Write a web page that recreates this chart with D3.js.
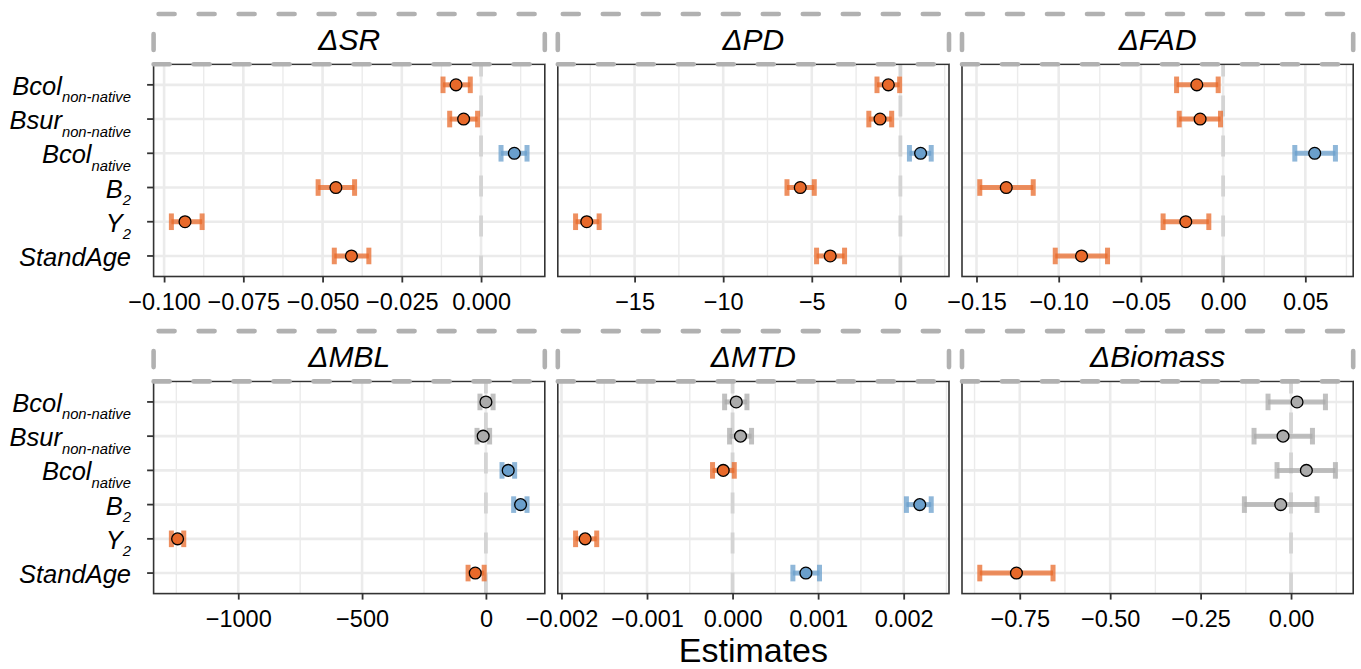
<!DOCTYPE html>
<html>
<head>
<meta charset="utf-8">
<script src="https://cdn.jsdelivr.net/npm/d3@7"></script>
<style>
  body { margin: 0; background: #fff; }
  text { font-family: "Liberation Sans", Arial, Helvetica, sans-serif; }
</style>
</head>
<body>
<svg id="chart"></svg>
<script>
// terms (rows, top to bottom)
var terms = ["Bcol_nn", "Bsur_nn", "Bcol_n", "B2", "Y2", "StandAge"]
var termMain = ["Bcol", "Bsur", "Bcol", "B", "Y", "StandAge"]
var termSub = ["non-native", "non-native", "native", "2", "2", ""]

// sig: n = negative, p = positive, ns = not significant
var srEst = [-0.0079, -0.0055, 0.0105, -0.0458, -0.0934, -0.0409]
var srLo = [-0.0120, -0.0099, 0.0063, -0.0514, -0.0977, -0.0463]
var srHi = [-0.0034, -0.0011, 0.0145, -0.0399, -0.0880, -0.0354]
var srSig = ["n", "n", "p", "n", "n", "n"]
var srTicks = [-0.1, -0.075, -0.05, -0.025, 0]

var pdEst = [-0.68, -1.15, 1.14, -5.65, -17.70, -3.96]
var pdLo = [-1.32, -1.78, 0.51, -6.40, -18.33, -4.73]
var pdHi = [-0.04, -0.49, 1.74, -4.86, -17.00, -3.15]
var pdSig = ["n", "n", "p", "n", "n", "n"]
var pdTicks = [-15, -10, -5, 0]

var fadEst = [-0.0160, -0.0140, 0.0557, -0.1319, -0.0227, -0.0861]
var fadLo = [-0.0283, -0.0267, 0.0436, -0.1480, -0.0365, -0.1021]
var fadHi = [-0.0030, -0.0016, 0.0683, -0.1155, -0.0087, -0.0703]
var fadSig = ["n", "n", "p", "n", "n", "n"]
var fadTicks = [-0.15, -0.10, -0.05, 0, 0.05]

var mblEst = [0, -11, 90, 140, -1245, -43]
var mblLo = [-24, -36, 65, 112, -1270, -72]
var mblHi = [29, 15, 116, 166, -1220, -7]
var mblSig = ["ns", "ns", "p", "p", "n", "n"]
var mblTicks = [-1000, -500, 0]

var mtdEst = [0.000043, 0.000093, -0.000109, 0.002188, -0.001723, 0.000857]
var mtdLo = [-0.000093, -0.000035, -0.000234, 0.002032, -0.001835, 0.000705]
var mtdHi = [0.000168, 0.000222, 0.000020, 0.002322, -0.001588, 0.001016]
var mtdSig = ["ns", "ns", "n", "p", "n", "p"]
var mtdTicks = [-0.002, -0.001, 0, 0.001, 0.002]

var bioEst = [0.0166, -0.0221, 0.0424, -0.0285, null, -0.7592]
var bioLo = [-0.0636, -0.1023, -0.0387, -0.1290, null, -0.8605]
var bioHi = [0.0951, 0.0592, 0.1227, 0.0719, null, -0.6580]
var bioSig = ["ns", "ns", "ns", "ns", null, "n"]
var bioTicks = [-0.75, -0.50, -0.25, 0]

var panels = [
    {title: "\u0394SR", est: srEst, lo: srLo, hi: srHi, sig: srSig, ticks: srTicks, fmt: ".3f"},
    {title: "\u0394PD", est: pdEst, lo: pdLo, hi: pdHi, sig: pdSig, ticks: pdTicks, fmt: "d"},
    {title: "\u0394FAD", est: fadEst, lo: fadLo, hi: fadHi, sig: fadSig, ticks: fadTicks, fmt: ".2f"},
    {title: "\u0394MBL", est: mblEst, lo: mblLo, hi: mblHi, sig: mblSig, ticks: mblTicks, fmt: "d"},
    {title: "\u0394MTD", est: mtdEst, lo: mtdLo, hi: mtdHi, sig: mtdSig, ticks: mtdTicks, fmt: ".3f"},
    {title: "\u0394Biomass", est: bioEst, lo: bioLo, hi: bioHi, sig: bioSig, ticks: bioTicks, fmt: ".2f"}
]

var colorMap = {n: "#E8692A", p: "#6A9FCC", ns: "#ABABAB"}

var width = 1361, height = 669
var marginLeft = 153.6, panelW = 391.2, gapX = 13
var panelH = 212.2, rowTop = [64.3, 381.4], stripH = 50.3

var svg = d3.select("#chart")
    .attr("width", width)
    .attr("height", height)

svg.append("rect")
    .attr("width", width)
    .attr("height", height)
    .attr("fill", "white")

panels.forEach(function(p, i) {
    var col = i % 3, row = Math.floor(i / 3)
    var x0 = marginLeft + col * (panelW + gapX), y0 = rowTop[row]
    var g = svg.append("g").attr("transform", "translate(" + x0 + "," + y0 + ")")

    // ggplot style 5% expansion around the interval ends
    var vals = p.lo.concat(p.hi).filter(function(v) { return v != null })
    var mn = d3.min(vals), mx = d3.max(vals), pad = (mx - mn) * 0.05
    var x = d3.scaleLinear().domain([mn - pad, mx + pad]).range([0, panelW])
    var y = d3.scalePoint().domain(terms).range([0, panelH]).padding(0.6)

    var step = p.ticks[1] - p.ticks[0]
    var minor = []
    for (var v = p.ticks[0] - step / 2; v <= x.domain()[1]; v += step) {
        if (v >= x.domain()[0]) minor.push(v)
    }

    g.append("rect")
        .attr("width", panelW)
        .attr("height", panelH)
        .attr("fill", "white")

    g.selectAll(".minor").data(minor)
        .enter().append("line")
        .attr("x1", x).attr("x2", x)
        .attr("y1", 0).attr("y2", panelH)
        .attr("stroke", "#ebebeb")
        .attr("stroke-width", 1.4)

    g.selectAll(".vmajor").data(p.ticks)
        .enter().append("line")
        .attr("x1", x).attr("x2", x)
        .attr("y1", 0).attr("y2", panelH)
        .attr("stroke", "#ebebeb")
        .attr("stroke-width", 2.6)

    g.selectAll(".hmajor").data(terms)
        .enter().append("line")
        .attr("x1", 0).attr("x2", panelW)
        .attr("y1", y).attr("y2", y)
        .attr("stroke", "#ebebeb")
        .attr("stroke-width", 2.6)

    // zero reference
    g.append("line")
        .attr("x1", x(0)).attr("x2", x(0))
        .attr("y1", panelH).attr("y2", 0)
        .attr("stroke", "#d4d4d4")
        .attr("stroke-width", 3.8)
        .attr("stroke-dasharray", "21,19")

    var rows = terms.map(function(t, k) {
        return {term: t, est: p.est[k], lo: p.lo[k], hi: p.hi[k], sig: p.sig[k]}
    }).filter(function(d) { return d.est != null })

    var bar = g.selectAll(".errbar").data(rows)
        .enter().append("g")
        .attr("class", "errbar")
        .attr("stroke", function(d) { return colorMap[d.sig] })
        .attr("stroke-width", 5)
        .attr("stroke-opacity", 0.75)

    bar.append("line")
        .attr("x1", function(d) { return x(d.lo) })
        .attr("x2", function(d) { return x(d.hi) })
        .attr("y1", function(d) { return y(d.term) })
        .attr("y2", function(d) { return y(d.term) })

    bar.append("line")
        .attr("x1", function(d) { return x(d.lo) })
        .attr("x2", function(d) { return x(d.lo) })
        .attr("y1", function(d) { return y(d.term) - 8.3 })
        .attr("y2", function(d) { return y(d.term) + 8.3 })

    bar.append("line")
        .attr("x1", function(d) { return x(d.hi) })
        .attr("x2", function(d) { return x(d.hi) })
        .attr("y1", function(d) { return y(d.term) - 8.3 })
        .attr("y2", function(d) { return y(d.term) + 8.3 })

    g.selectAll(".pt").data(rows)
        .enter().append("circle")
        .attr("cx", function(d) { return x(d.est) })
        .attr("cy", function(d) { return y(d.term) })
        .attr("r", 5.9)
        .attr("fill", function(d) { return colorMap[d.sig] })
        .attr("stroke", "black")
        .attr("stroke-width", 1.3)

    g.append("rect")
        .attr("width", panelW)
        .attr("height", panelH)
        .attr("fill", "none")
        .attr("stroke", "#333")
        .attr("stroke-width", 1.6)

    // x axis
    var ax = g.append("g")
        .attr("transform", "translate(0," + panelH + ")")
        .call(d3.axisBottom(x).tickValues(p.ticks).tickFormat(d3.format(p.fmt)).tickSize(6))
    ax.select(".domain").remove()
    ax.attr("font-family", null).attr("font-size", null)
    ax.selectAll("line").attr("stroke", "#333").attr("stroke-width", 1.8)
    ax.selectAll("text")
        .attr("y", 33.4)
        .attr("dy", 0)
        .attr("fill", "#000")
        .style("font-size", "23.5px")

    // y axis on the left column only
    if (col === 0) {
        g.selectAll(".ytick").data(terms)
            .enter().append("line")
            .attr("x1", -6.5).attr("x2", 0)
            .attr("y1", y).attr("y2", y)
            .attr("stroke", "#333")
            .attr("stroke-width", 1.8)

        var lab = g.selectAll(".ylab").data(terms)
            .enter().append("text")
            .attr("x", 131 - marginLeft)
            .attr("y", function(d) { return y(d) + 10 })
            .attr("text-anchor", "end")
            .style("font-style", "italic")
            .attr("fill", "#000")
        lab.append("tspan")
            .style("font-size", "25.5px")
            .text(function(d, k) { return termMain[k] })
        lab.append("tspan")
            .style("font-size", "14.8px")
            .attr("dy", 7.5)
            .text(function(d, k) { return termSub[k] })
    }

    // strip with dashed border
    var s = g.append("g").attr("transform", "translate(0," + (-stripH) + ")")
    s.append("rect")
        .attr("width", panelW)
        .attr("height", stripH - 1)
        .attr("fill", "white")
    var dash = [
        {x1: 0, y1: 0, x2: panelW, y2: 0, off: 35},
        {x1: 0, y1: stripH, x2: panelW, y2: stripH, off: 0},
        {x1: 0, y1: 0, x2: 0, y2: stripH, off: 20},
        {x1: panelW, y1: 0, x2: panelW, y2: stripH, off: 20}
    ]
    s.selectAll(".sdash").data(dash)
        .enter().append("line")
        .attr("x1", function(d) { return d.x1 })
        .attr("y1", function(d) { return d.y1 })
        .attr("x2", function(d) { return d.x2 })
        .attr("y2", function(d) { return d.y2 })
        .attr("stroke", "#b1b1b1")
        .attr("stroke-width", 4.6)
        .attr("stroke-linecap", "round")
        .attr("stroke-dasharray", "16,24")
        .attr("stroke-dashoffset", function(d) { return d.off })
    s.append("text")
        .attr("x", panelW / 2)
        .attr("y", 36)
        .attr("text-anchor", "middle")
        .style("font-style", "italic")
        .style("font-size", "30px")
        .attr("fill", "#000")
        .text(p.title)
})

svg.append("text")
    .attr("x", marginLeft + (3 * panelW + 2 * gapX) / 2)
    .attr("y", 662)
    .attr("text-anchor", "middle")
    .style("font-size", "34px")
    .attr("fill", "#000")
    .text("Estimates")
</script>
</body>
</html>
